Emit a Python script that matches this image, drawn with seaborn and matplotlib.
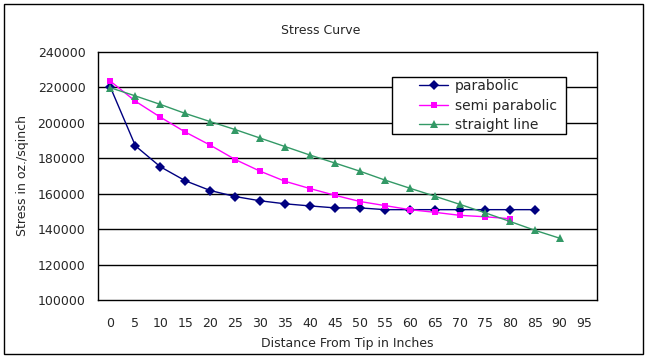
import numpy as np
import pandas as pd
import matplotlib
matplotlib.use("Agg")
import matplotlib.pyplot as plt
import seaborn as sns
from matplotlib.patches import Rectangle

categories = [0, 5, 10, 15, 20, 25, 30, 35, 40, 45, 50, 55, 60, 65, 70, 75, 80, 85, 90, 95]
parabolic = [220000, 187000, 175200, 167300, 161800, 158400, 156000, 154300, 153100, 152000,
             152000, 151000, 151000, 151000, 151000, 151000, 151000, 151000]
semi_parabolic = [223500, 212200, 203200, 194800, 187400, 179300, 172700, 167000, 162900, 159100,
                  155600, 153300, 151000, 149500, 147800, 147000, 145900]
straight_line = [219800, 215200, 210400, 205300, 200700, 196200, 191400, 186600, 181800, 177300,
                 172700, 167700, 163100, 158600, 154000, 149300, 144400, 139400, 134900]
series_names = ["parabolic", "semi parabolic", "straight line"]
y_ticks = [100000, 120000, 140000, 160000, 180000, 200000, 220000, 240000]

rows = []
for name, vals in zip(series_names, [parabolic, semi_parabolic, straight_line]):
    for i, v in enumerate(vals):
        rows.append({"pos": i, "value": v, "series": name})
df = pd.DataFrame(rows)

sns.set_style("white")
plt.rcParams['font.family'] = ['DejaVu Sans']

fig = plt.figure(figsize=(6.5, 3.6), dpi=100)
ax = fig.add_axes([98/650, 60/360, 499/650, 248/360])

palette = {"parabolic": "#000080", "semi parabolic": "#FF00FF", "straight line": "#339966"}
markers = {"parabolic": "D", "semi parabolic": "s", "straight line": "^"}
sizes_m = {"parabolic": 4.8, "semi parabolic": 5, "straight line": 5.5}

sns.lineplot(data=df, x="pos", y="value", hue="series", style="series",
             palette=palette, markers=markers, dashes=False, ax=ax,
             linewidth=1.0, markeredgewidth=0, legend=True)

for line, name in zip(ax.get_lines()[:3], series_names):
    line.set_markersize(sizes_m[name])

ax.set_xlim(-0.5, len(categories) - 0.5)
ax.set_ylim(100000, 240000)
ax.set_yticks(y_ticks)
ax.set_yticklabels([str(t) for t in y_ticks], fontsize=9)
ax.set_xticks(range(len(categories)))
ax.set_xticklabels([str(c) for c in categories], fontsize=9)
ax.set_xticks(np.arange(0.5, len(categories) - 0.5, 1), minor=True)
ax.tick_params(axis='x', which='major', length=0, pad=12)
ax.tick_params(axis='x', which='minor', direction='in', length=4, width=0.8, color='black')
ax.tick_params(axis='y', which='major', length=0, pad=9)
ax.grid(False)
for yv in y_ticks[1:-1]:
    ax.axhline(yv, color='black', lw=1.0, zorder=0)
for s in ax.spines.values():
    s.set_visible(True)
    s.set_color('black')
    s.set_linewidth(1.0)

ax.set_xlabel("Distance From Tip in Inches", fontsize=9, va='center')
ax.xaxis.set_label_coords(0.5, (300 - 343) / 248)
ax.set_ylabel("Stress in oz./sqinch", fontsize=9, va='center')
ax.yaxis.set_label_coords((23 - 98) / 499, 0.5)
fig.text(321/650, 1 - 31/360, "Stress Curve", fontsize=9, ha='center', va='center')

handles, labels = ax.get_legend_handles_labels()
ax.add_patch(Rectangle((392/650, 1 - 134/360), 174/650, 57/360, transform=fig.transFigure,
                       facecolor='white', edgecolor='black', lw=1.0, zorder=5, clip_on=False))
leg = ax.legend(handles[-3:], labels[-3:], loc='center left',
                bbox_to_anchor=(419/650, 1 - 105.5/360), bbox_transform=fig.transFigure,
                fontsize=10, frameon=False, handlelength=2.1, handletextpad=0.5,
                borderpad=0, labelspacing=0.42, borderaxespad=0)
leg.set_zorder(6)
for h, name in zip(leg.legend_handles, labels[-3:]):
    h.set_markersize(sizes_m.get(name, 5))

fig.patches.append(Rectangle((4/650, 6/360), 639/650, 350/360, transform=fig.transFigure,
                             fill=False, edgecolor='black', lw=1.0))

fig.savefig("out.png", dpi=100, facecolor='white')
